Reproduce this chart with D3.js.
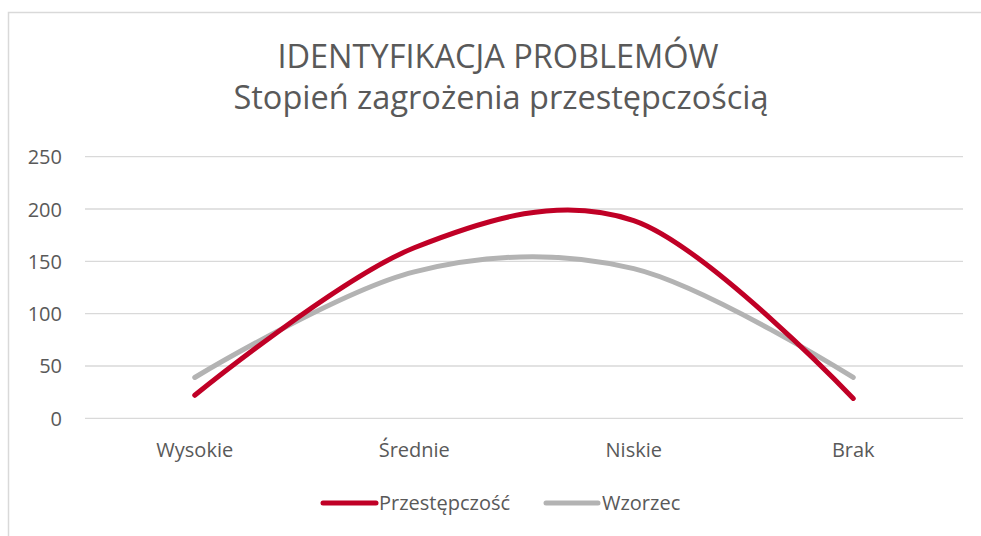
<!DOCTYPE html>
<html>
<head>
<meta charset="utf-8">
<script src="https://cdn.jsdelivr.net/npm/d3@7"></script>
<style>
  html, body { margin: 0; padding: 0; background: #fff; }
  svg { display: block; }
  text { font-family: "Open Sans", "Noto Sans", sans-serif; fill: #595959; }
</style>
</head>
<body>
<svg id="chart" width="981" height="536"></svg>
<script>
const categories = ["Wysokie", "Średnie", "Niskie", "Brak"];
const przestepczosc = [22, 163, 189, 19];
const wzorzec = [39, 140, 143, 39];
const yTicks = [0, 50, 100, 150, 200, 250];
const titleLines = ["IDENTYFIKACJA PROBLEMÓW", "Stopień zagrożenia przestępczością"];
const seriesNames = ["Przestępczość", "Wzorzec"];
const seriesColors = ["#c00026", "#b3b3b3"];

const svg = d3.select("#chart");
const W = 981, H = 536;
const labelSize = "20px";

// outer chart border
svg.append("rect")
  .attr("x", 8.5).attr("y", 12.5)
  .attr("width", W).attr("height", H)
  .attr("fill", "#fff").attr("stroke", "#d9d9d9").attr("stroke-width", 1.5);

const plot = { left: 85, right: 963, top: 156.7, bottom: 418.3 };

const x = d3.scaleBand().domain(categories).range([plot.left, plot.right]);
const y = d3.scaleLinear().domain([0, 250]).range([plot.bottom, plot.top]);

// gridlines
svg.append("g").selectAll("line").data(yTicks).join("line")
  .attr("x1", plot.left).attr("x2", plot.right)
  .attr("y1", d => y(d)).attr("y2", d => y(d))
  .attr("stroke", "#d9d9d9").attr("stroke-width", 1.3);

// y axis labels
const yAxis = d3.axisLeft(y).tickValues(yTicks).tickSize(0).tickPadding(0);
const gy = svg.append("g").attr("transform", `translate(62,0)`).call(yAxis);
gy.select(".domain").remove();
gy.selectAll("text").style("font-size", labelSize).attr("dy", "0.35em")
  .style("font-family", "\"Open Sans\", sans-serif").attr("fill", "#595959");

// x axis labels
const xAxis = d3.axisBottom(x).tickSize(0).tickPadding(0);
const gx = svg.append("g").attr("transform", `translate(0,442.5)`).call(xAxis);
gx.select(".domain").remove();
gx.selectAll("text").style("font-size", labelSize).attr("dy", "0.71em")
  .style("font-family", "\"Open Sans\", sans-serif").attr("fill", "#595959");

// lines
const line = d3.line()
  .x((d, i) => x(categories[i]) + x.bandwidth() / 2)
  .y(d => y(d))
  .curve(d3.curveCardinal.tension(0));

[wzorzec, przestepczosc].forEach((s, k) => {
  const idx = k === 0 ? 1 : 0;
  svg.append("path").datum(s)
    .attr("d", line)
    .attr("fill", "none")
    .attr("stroke", seriesColors[idx])
    .attr("stroke-width", 5)
    .attr("stroke-linecap", "round")
    .attr("stroke-linejoin", "round");
});

// title
svg.append("text").text(titleLines[0])
  .attr("x", 498).attr("y", 68).attr("text-anchor", "middle")
  .style("font-size", "32.5px");
svg.append("text").text(titleLines[1])
  .attr("x", 501).attr("y", 109).attr("text-anchor", "middle")
  .style("font-size", "32.5px");

// legend
const legendItems = [
  { name: seriesNames[0], color: seriesColors[0], x1: 323, x2: 376, tx: 379 },
  { name: seriesNames[1], color: seriesColors[1], x1: 546, x2: 598, tx: 602 }
];
legendItems.forEach(it => {
  svg.append("line").attr("x1", it.x1).attr("x2", it.x2)
    .attr("y1", 503).attr("y2", 503)
    .attr("stroke", it.color).attr("stroke-width", 5).attr("stroke-linecap", "round");
  svg.append("text").text(it.name).attr("x", it.tx).attr("y", 503)
    .attr("dy", "0.35em").style("font-size", labelSize);
});
</script>
</body>
</html>
